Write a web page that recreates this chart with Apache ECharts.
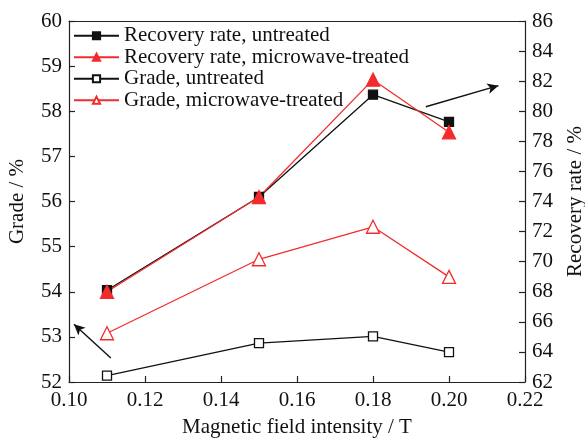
<!DOCTYPE html>
<html><head><meta charset="utf-8">
<script src="https://cdn.jsdelivr.net/npm/echarts@6/dist/echarts.min.js"></script>
<style>html,body{margin:0;padding:0;background:#fff}#c{width:585px;height:439px}</style>
</head><body><div id="c"></div>
<script>
var fieldIntensity = [0.11, 0.15, 0.18, 0.20];
var recoveryUntreated = [68.1, 74.3, 81.1, 79.3];
var recoveryMicrowave = [68.0, 74.3, 82.1, 78.6];
var gradeUntreated = [52.14, 52.86, 53.01, 52.66];
var gradeMicrowave = [53.08, 54.72, 55.44, 54.33];
var seriesNames = ['Recovery rate, untreated', 'Recovery rate, microwave-treated', 'Grade, untreated', 'Grade, microwave-treated'];
var gradeArrow = [[0.111, 52.53], [0.1013, 53.28]];
var recoveryArrow = [[0.1939, 80.3], [0.213, 81.7]];

function pairs(xs, ys){ return xs.map(function(x,i){return [x, ys[i]];}); }
var font = '"Liberation Serif", "Times New Roman", serif';
var red = '#f22c2c';
var black = '#111';

var chart = echarts.init(document.getElementById('c'), null, {renderer:'canvas'});
var axisLine = {show:true, lineStyle:{color:'#222', width:1.2}};
var tickStyle = {show:true, inside:true, length:6, lineStyle:{color:'#222', width:1.2}};
var lblStyle = {color:'#111', fontFamily:font, fontSize:21};
function lineSeries(name, data, yIdx, color, symbol, size, filled){
  return {name:name, type:'line', yAxisIndex:yIdx, data:data, symbol:symbol, symbolSize:size,
    lineStyle:{color:color, width:1.3}, itemStyle:{color: filled ? color : '#fff', borderColor:color, borderWidth:1.3},
    animation:false};
}
var s1 = lineSeries(seriesNames[0], pairs(fieldIntensity, recoveryUntreated), 1, black, 'rect', 9, true);
var s2 = lineSeries(seriesNames[1], pairs(fieldIntensity, recoveryMicrowave), 1, red, 'triangle', 13, true);
var s3 = lineSeries(seriesNames[2], pairs(fieldIntensity, gradeUntreated), 0, black, 'rect', 9, false);
var s4 = lineSeries(seriesNames[3], pairs(fieldIntensity, gradeMicrowave), 0, red, 'triangle', 13, false);
s3.markLine = {silent:true, symbol:['none','arrow'], symbolSize:[8,11], label:{show:false},
  lineStyle:{color:black, width:1.4, type:'solid'}, data:[[{coord:gradeArrow[0]},{coord:gradeArrow[1]}]]};
s1.markLine = {silent:true, symbol:['none','arrow'], symbolSize:[8,11], label:{show:false},
  lineStyle:{color:black, width:1.4, type:'solid'}, data:[[{coord:recoveryArrow[0]},{coord:recoveryArrow[1]}]]};

chart.setOption({
  backgroundColor:'#fff',
  animation:false,
  grid:{left:69, right:60, top:21, bottom:57, containLabel:false, outerBoundsMode:'none'},
  legend:{orient:'vertical', left:73, top:25, itemWidth:45, itemHeight:9, itemGap:0, padding:0,
    textStyle:{fontFamily:font, fontSize:21, color:'#111', lineHeight:21.5}, data:seriesNames, selectedMode:false},
  xAxis:[{type:'value', min:0.10, max:0.22, interval:0.02,
    name:'Magnetic field intensity / T', nameLocation:'middle', nameGap:35,
    nameTextStyle:{fontFamily:font, fontSize:21, color:'#111'},
    axisLine:axisLine, axisTick:tickStyle, splitLine:{show:false},
    axisLabel:Object.assign({margin:8, formatter:function(v){return v.toFixed(2);}}, lblStyle)},
    {type:'value', position:'top', min:0.10, max:0.22, axisLine:axisLine, axisTick:{show:false}, axisLabel:{show:false}, splitLine:{show:false}}],
  yAxis:[
    {type:'value', min:52, max:60, interval:1, position:'left',
      name:'Grade / %', nameLocation:'middle', nameGap:41,
      nameTextStyle:{fontFamily:font, fontSize:21, color:'#111'},
      axisLine:axisLine, axisTick:tickStyle, splitLine:{show:false},
      axisLabel:Object.assign({margin:7}, lblStyle)},
    {type:'value', min:62, max:86, interval:2, position:'right',
      name:'Recovery rate / %', nameLocation:'middle', nameGap:40, nameRotate:90,
      nameTextStyle:{fontFamily:font, fontSize:21, color:'#111'},
      axisLine:axisLine, axisTick:tickStyle, splitLine:{show:false},
      axisLabel:Object.assign({margin:7}, lblStyle)}
  ],
  series:[s1, s2, s3, s4]
});
</script></body></html>
